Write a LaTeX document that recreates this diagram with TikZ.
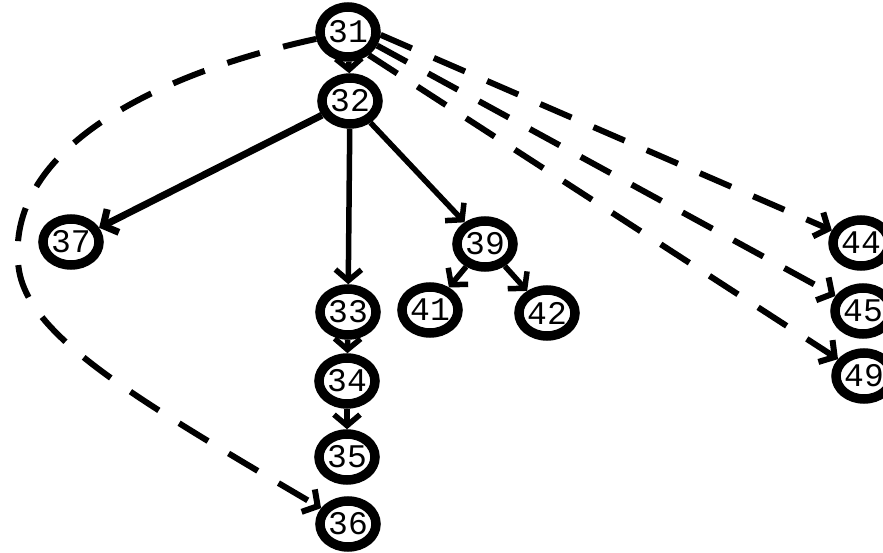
\documentclass[tikz,border=0pt]{standalone}
\usepackage{fontspec}
\setmonofont{Liberation Mono}
\usetikzlibrary{arrows.meta,shapes.geometric}

\begin{document}
\begin{tikzpicture}[x=1pt,y=-1pt,
  vertex/.style={ellipse, draw, line width=9.5pt, fill=white,
    minimum width=55pt, minimum height=46pt, inner sep=0pt,
    font=\ttfamily\fontsize{33}{33}\selectfont},
  barb/.style={-{Straight Barb[length=11pt,width=26pt]}},
  tree/.style={barb, line width=5.5pt},
  jump/.style={barb, line width=6pt, dash pattern=on 34pt off 24pt},
]
\useasboundingbox (0,0) rectangle (883,553);
\clip (0,0) rectangle (883,553);

% vertices
\node[vertex, minimum height=50pt] (n31) at (348,32)  {31};
\node[vertex] (n32) at (350,101) {32};
\node[vertex] (n37) at (71,242)  {37};
\node[vertex] (n33) at (348,312) {33};
\node[vertex] (n34) at (347,381) {34};
\node[vertex] (n35) at (347,457) {35};
\node[vertex] (n36) at (348,524) {36};
\node[vertex] (n39) at (485,244) {39};
\node[vertex] (n41) at (430,310) {41};
\node[vertex] (n42) at (547,313) {42};
\node[vertex] (n44) at (861,243) {44};
\node[vertex] (n45) at (863,311) {45};
\node[vertex] (n49) at (864,376) {49};

% tree edges
\draw[tree] (n31) -- (n32);
\draw[tree, line width=7pt] (n32) -- (n37);
\draw[tree] (n32) -- (n33);
\draw[tree] (n32) -- (n39);
\draw[tree] (n33) -- (n34);
\draw[tree] (n34) -- (n35);
\draw[tree] (n39) -- (n41);
\draw[tree] (n39) -- (n42);

% dashed edges leave 31 from spread-out points on its right side
\draw[jump] (n31.-5) -- (n44);
\draw[jump] (n31.-25) -- (n45);
\draw[jump] (n31.-48) -- (n49);

\coordinate (c1) at (150,75);
\coordinate (c2) at (10,150);
\coordinate (w) at (18,260);
\coordinate (c3) at (20,330);
\coordinate (c4) at (120,390);
\draw[jump] (n31) .. controls (c1) and (c2) .. (w)
  .. controls (c3) and (c4) .. (n36);
\end{tikzpicture}
\end{document}
